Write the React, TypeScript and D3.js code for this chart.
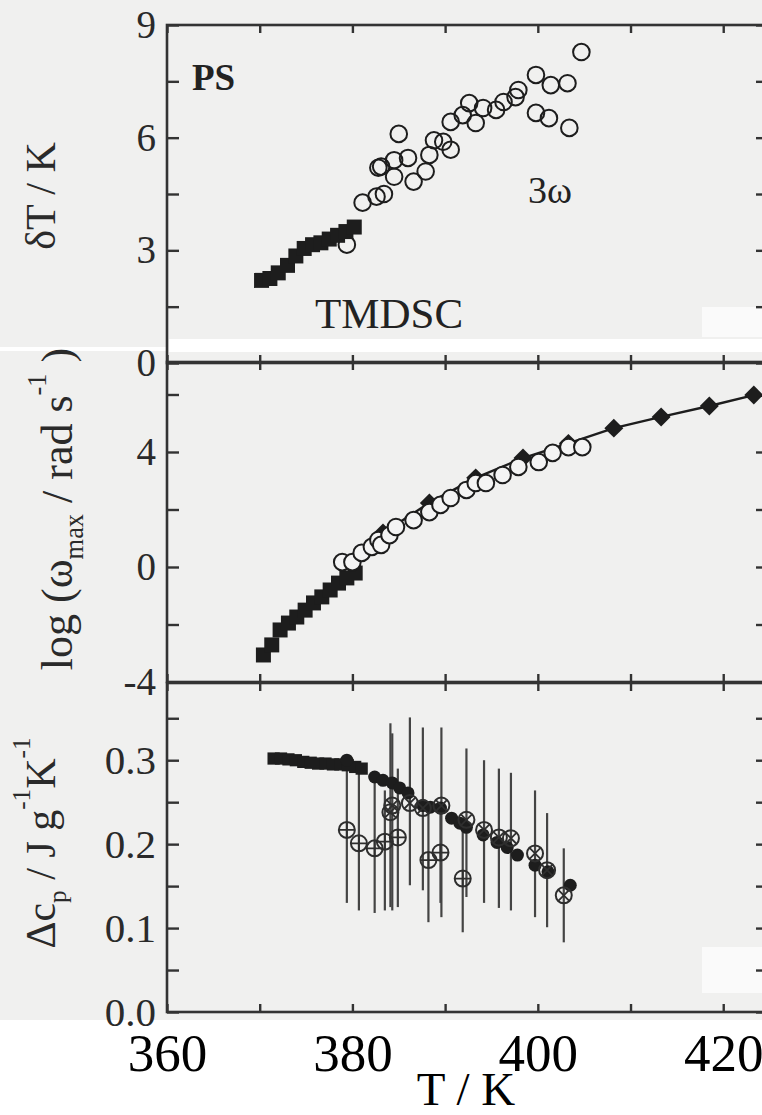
import React, { useEffect, useRef } from 'react';
import * as d3 from 'd3';

// ---- data ----
// top panel: deltaT vs T
const tmdscT = [370.2, 371.1, 372.0, 373.0, 373.9, 374.8, 375.7, 376.6, 377.5, 378.4, 379.3, 380.2];
const tmdscDT = [2.2, 2.25, 2.4, 2.6, 2.85, 3.05, 3.15, 3.2, 3.3, 3.4, 3.5, 3.62];
const threeOmT = [379.4, 381.1, 382.6, 382.8, 383.4, 383.1, 384.5, 384.5, 385.0, 386.0, 386.6, 387.9, 388.3, 388.8, 389.8, 390.6, 390.6, 391.9, 392.6, 393.3, 394.1, 395.5, 396.3, 397.6, 397.9, 399.8, 399.8, 401.2, 401.4, 403.2, 403.4, 404.7];
const threeOmDT = [3.15, 4.27, 4.43, 5.2, 4.5, 5.23, 5.4, 4.96, 6.1, 5.46, 4.83, 5.1, 5.54, 5.93, 5.89, 5.68, 6.42, 6.6, 6.92, 6.39, 6.79, 6.74, 6.95, 7.08, 7.27, 7.67, 6.66, 6.52, 7.4, 7.45, 6.26, 8.28];

// middle panel: log(omega_max) vs T
const wSqT = [370.4, 371.3, 372.2, 373.1, 374.0, 374.9, 375.8, 376.7, 377.6, 378.5, 379.4, 380.3];
const wSqV = [-3.06, -2.71, -2.19, -1.95, -1.74, -1.5, -1.25, -1.04, -0.8, -0.56, -0.38, -0.21];
const wCircT = [378.9, 380.0, 381.0, 382.1, 382.8, 383.1, 384.0, 384.7, 386.6, 388.3, 389.5, 390.6, 392.3, 393.3, 394.4, 396.2, 397.9, 400.1, 401.6, 403.3, 404.8];
const wCircV = [0.17, 0.17, 0.49, 0.7, 0.94, 0.77, 1.11, 1.39, 1.63, 1.91, 2.16, 2.4, 2.68, 2.92, 2.92, 3.2, 3.48, 3.65, 3.97, 4.17, 4.17];
const wDiaT = [383.3, 388.3, 393.3, 398.4, 403.3, 408.2, 413.3, 418.5, 423.3];
const wDiaV = [1.18, 2.23, 3.1, 3.79, 4.3, 4.83, 5.22, 5.6, 5.98];

// bottom panel: delta cp vs T
const cpSqT = [371.5, 372.3, 373.1, 373.9, 374.7, 375.5, 376.3, 377.1, 377.9, 378.7, 379.5, 380.3, 381.0];
const cpSqV = [0.302, 0.302, 0.301, 0.3, 0.298, 0.297, 0.296, 0.296, 0.295, 0.295, 0.294, 0.292, 0.29];
const cpDotT = [379.4, 382.4, 383.3, 384.3, 385.1, 386.0, 387.6, 388.4, 389.5, 390.7, 391.6, 392.3, 394.1, 395.6, 396.7, 397.8, 399.7, 401.1, 403.5];
const cpDotV = [0.3, 0.28, 0.276, 0.273, 0.267, 0.261, 0.246, 0.244, 0.243, 0.231, 0.225, 0.22, 0.211, 0.202, 0.196, 0.187, 0.175, 0.167, 0.151];
const cpXT = [384.1, 384.3, 386.2, 387.6, 389.6, 392.3, 394.2, 395.8, 397.1, 399.7, 401.0, 402.8];
const cpXV = [0.238, 0.246, 0.249, 0.243, 0.246, 0.229, 0.217, 0.208, 0.207, 0.189, 0.169, 0.139];
const cpXHi = [0.344, 0.332, 0.351, 0.339, 0.339, 0.314, 0.3, 0.29, 0.285, 0.264, 0.237, 0.195];
const cpXLo = [0.125, 0.121, 0.151, 0.145, 0.113, 0.137, 0.13, 0.124, 0.121, 0.113, 0.101, 0.083];
const cpPT = [379.4, 380.7, 382.4, 383.5, 384.9, 388.2, 389.5, 391.9];
const cpPV = [0.217, 0.201, 0.195, 0.203, 0.208, 0.181, 0.19, 0.159];
const cpPHi = [0.292, 0.288, 0.276, 0.264, 0.29, 0.237, 0.25, 0.22];
const cpPLo = [0.13, 0.121, 0.118, 0.121, 0.125, 0.107, 0.13, 0.095];

const xTicks = [360, 370, 380, 390, 400, 410, 420];
const xLabels = [360, 380, 400, 420];
const topTicks = [0, 1.5, 3, 4.5, 6, 7.5, 9];
const topLabels = [0, 3, 6, 9];
const midTicks = [-4, -2, 0, 2, 4, 6];
const midLabels = [-4, 0, 4];
const botTicks = [0, 0.05, 0.1, 0.15, 0.2, 0.25, 0.3, 0.35];
const botLabels = [0, 0.1, 0.2, 0.3];

const ink = '#1d1d1d';
const axisCol = '#333';
const serif = 'Liberation Serif';

const App = () => {
  const ref = useRef(null);

  useEffect(() => {
    const svg = d3.select(ref.current);
    svg.selectAll('*').remove();

    // paper and the white paste-up patches of the scan
    svg.append('rect').attr('width', 762).attr('height', 1115).attr('fill', '#f0f0ef');
    svg.append('rect').attr('y', 1020).attr('width', 762).attr('height', 95).attr('fill', '#fff');
    svg.append('rect').attr('x', 169).attr('y', 339).attr('width', 593).attr('height', 13).attr('fill', '#fff');
    svg.append('rect').attr('x', 0).attr('y', 347).attr('width', 167).attr('height', 4).attr('fill', '#fff');
    svg.append('rect').attr('x', 702).attr('y', 307).attr('width', 60).attr('height', 30).attr('fill', '#fafafa');
    svg.append('rect').attr('x', 702).attr('y', 947).attr('width', 60).attr('height', 46).attr('fill', '#fafafa');

    const x = d3.scaleLinear().domain([360, 424.83]).range([167, 768]);
    const yTop = d3.scaleLinear().domain([0, 9]).range([363, 25]);
    const yMid = d3.scaleLinear().domain([-4, 7.13]).range([682, 362]);
    const yBot = d3.scaleLinear().domain([0, 0.392]).range([1012, 683]);

    const panels = [
      { y: yTop, ticks: topTicks, labels: topLabels, fmt: (d) => String(d), fs: 39 },
      { y: yMid, ticks: midTicks, labels: midLabels, fmt: (d) => String(d), fs: 39 },
      { y: yBot, ticks: botTicks, labels: botLabels, fmt: d3.format('.1f'), fs: 41 },
    ];

    panels.forEach((p) => {
      const [b, t] = p.y.range();
      const g = svg.append('g');
      // frame
      g.append('rect').attr('x', 167).attr('y', t).attr('width', 601).attr('height', b - t)
        .attr('fill', 'none').attr('stroke', axisCol).attr('stroke-width', 2.6);
      // x ticks, top and bottom, inward
      g.append('g').attr('transform', `translate(0,${t})`)
        .call(d3.axisTop(x).tickValues(xTicks).tickSize(-8).tickFormat(() => ''));
      g.append('g').attr('transform', `translate(0,${b})`)
        .call(d3.axisBottom(x).tickValues(xTicks).tickSize(-8).tickFormat(() => ''));
      // y ticks left and right
      g.append('g').attr('transform', 'translate(167,0)')
        .call(d3.axisLeft(p.y).tickValues(p.ticks).tickSize(-12).tickPadding(11)
          .tickFormat((d) => (p.labels.some((l) => Math.abs(l - d) < 1e-9) ? p.fmt(d) : '')));
      g.append('g').attr('transform', 'translate(768,0)')
        .call(d3.axisRight(p.y).tickValues(p.ticks).tickSize(-12).tickFormat(() => ''));
      g.selectAll('.domain').remove();
      g.selectAll('g').attr('font-family', serif);
      g.selectAll('.tick line').attr('stroke', axisCol).attr('stroke-width', 2.4);
      g.selectAll('.tick text').attr('font-size', p.fs).attr('fill', '#2a2a2a');
    });

    // bottom x labels
    svg.append('g').attr('transform', 'translate(0,1012)')
      .call(d3.axisBottom(x).tickValues(xLabels).tickSize(0).tickPadding(21).tickFormat(d3.format('d')))
      .attr('font-family', serif)
      .call((g) => g.select('.domain').remove())
      .selectAll('text').attr('font-size', 53).attr('fill', '#000');

    svg.append('text').attr('x', 466).attr('y', 1105).attr('text-anchor', 'middle')
      .attr('font-family', serif).attr('font-size', 47).attr('fill', '#000').text('T / K');

    // ---- top panel ----
    const sq = (s) => d3.symbol(d3.symbolSquare, s)();
    const top = svg.append('g');
    top.selectAll('.c').data(threeOmT).enter().append('circle')
      .attr('cx', (d) => x(d)).attr('cy', (d, i) => yTop(threeOmDT[i])).attr('r', 8.3)
      .attr('fill', 'none').attr('stroke', ink).attr('stroke-width', 2);
    top.selectAll('.s').data(tmdscT).enter().append('path')
      .attr('d', sq(225)).attr('fill', ink)
      .attr('transform', (d, i) => `translate(${x(d)},${yTop(tmdscDT[i])})`);

    top.append('text').attr('x', 192).attr('y', 90).attr('font-family', serif).attr('font-weight', 'bold')
      .attr('font-size', 37).attr('fill', '#222').text('PS');
    top.append('text').attr('x', 315).attr('y', 328).attr('font-family', serif)
      .attr('font-size', 43).attr('fill', '#222').text('TMDSC');
    top.append('text').attr('x', 528).attr('y', 203).attr('font-family', serif)
      .attr('font-size', 38).attr('fill', '#222').text('3ω');

    // ---- middle panel ----
    const mid = svg.append('g');
    mid.append('path').datum(wDiaT)
      .attr('d', d3.line().x((d) => x(d)).y((d, i) => yMid(wDiaV[i])))
      .attr('fill', 'none').attr('stroke', ink).attr('stroke-width', 2.4);
    mid.selectAll('.s').data(wSqT).enter().append('path')
      .attr('d', sq(225)).attr('fill', ink)
      .attr('transform', (d, i) => `translate(${x(d)},${yMid(wSqV[i])})`);
    mid.selectAll('.dm').data(wDiaT).enter().append('path')
      .attr('d', sq(180)).attr('fill', ink)
      .attr('transform', (d, i) => `translate(${x(d)},${yMid(wDiaV[i])}) rotate(45)`);
    mid.selectAll('.c').data(wCircT).enter().append('circle')
      .attr('cx', (d) => x(d)).attr('cy', (d, i) => yMid(wCircV[i])).attr('r', 8.3)
      .attr('fill', '#f4f4f4').attr('stroke', ink).attr('stroke-width', 2);

    // ---- bottom panel ----
    const bot = svg.append('g');
    const bars = (ts, hi, lo) => bot.selectAll(null).data(ts).enter().append('line')
      .attr('x1', (d) => x(d)).attr('x2', (d) => x(d))
      .attr('y1', (d, i) => yBot(hi[i])).attr('y2', (d, i) => yBot(lo[i]))
      .attr('stroke', '#444').attr('stroke-width', 2.2);
    bars(cpXT, cpXHi, cpXLo);
    bars(cpPT, cpPHi, cpPLo);

    bot.selectAll(null).data(cpSqT).enter().append('path')
      .attr('d', sq(150)).attr('fill', ink)
      .attr('transform', (d, i) => `translate(${x(d)},${yBot(cpSqV[i])})`);
    bot.selectAll(null).data(cpDotT).enter().append('circle')
      .attr('cx', (d) => x(d)).attr('cy', (d, i) => yBot(cpDotV[i])).attr('r', 6.5).attr('fill', ink);

    const ringed = (ts, vs, type, size) => {
      const gg = bot.selectAll(null).data(ts).enter().append('g')
        .attr('transform', (d, i) => `translate(${x(d)},${yBot(vs[i])})`);
      gg.append('circle').attr('r', 8).attr('fill', 'none').attr('stroke', '#2e2e2e').attr('stroke-width', 2);
      gg.append('path').attr('d', d3.symbol(type, size)()).attr('fill', 'none')
        .attr('stroke', '#2e2e2e').attr('stroke-width', 1.8);
    };
    ringed(cpXT, cpXV, d3.symbolTimes, 80);
    ringed(cpPT, cpPV, d3.symbolPlus, 84);

    // ---- axis titles ----
    const title = (cx, cy, fs, parts) => {
      const t = svg.append('text').attr('transform', `translate(${cx},${cy}) rotate(-90)`)
        .attr('text-anchor', 'middle').attr('font-family', serif).attr('font-size', fs).attr('fill', '#2a2a2a');
      parts.forEach(([s, kind]) => {
        const sp = t.append('tspan').text(s);
        if (kind === 'sub') sp.attr('font-size', fs * 0.6).attr('dy', fs * 0.25);
        if (kind === 'sup') sp.attr('font-size', fs * 0.6).attr('dy', -fs * 0.6);
        if (kind === 'back') sp.attr('dy', -fs * 0.25);
        if (kind === 'down') sp.attr('dy', fs * 0.6);
      });
    };
    title(55, 196, 42, [['δT / K', '']]);
    title(72, 509, 44, [['log (ω', ''], ['max', 'sub'], [' / rad s', 'back'], ['-1', 'sup'], [' )', 'down']]);
    title(55, 843, 42, [['Δc', ''], ['p', 'sub'], [' / J g', 'back'], ['-1', 'sup'], ['K', 'down'], ['-1', 'sup']]);
  }, []);

  return (
    <svg ref={ref} width={762} height={1115} fontFamily="Liberation Serif"
      style={{ position: 'absolute', left: 0, top: 0, display: 'block' }} />
  );
};

export default App;
